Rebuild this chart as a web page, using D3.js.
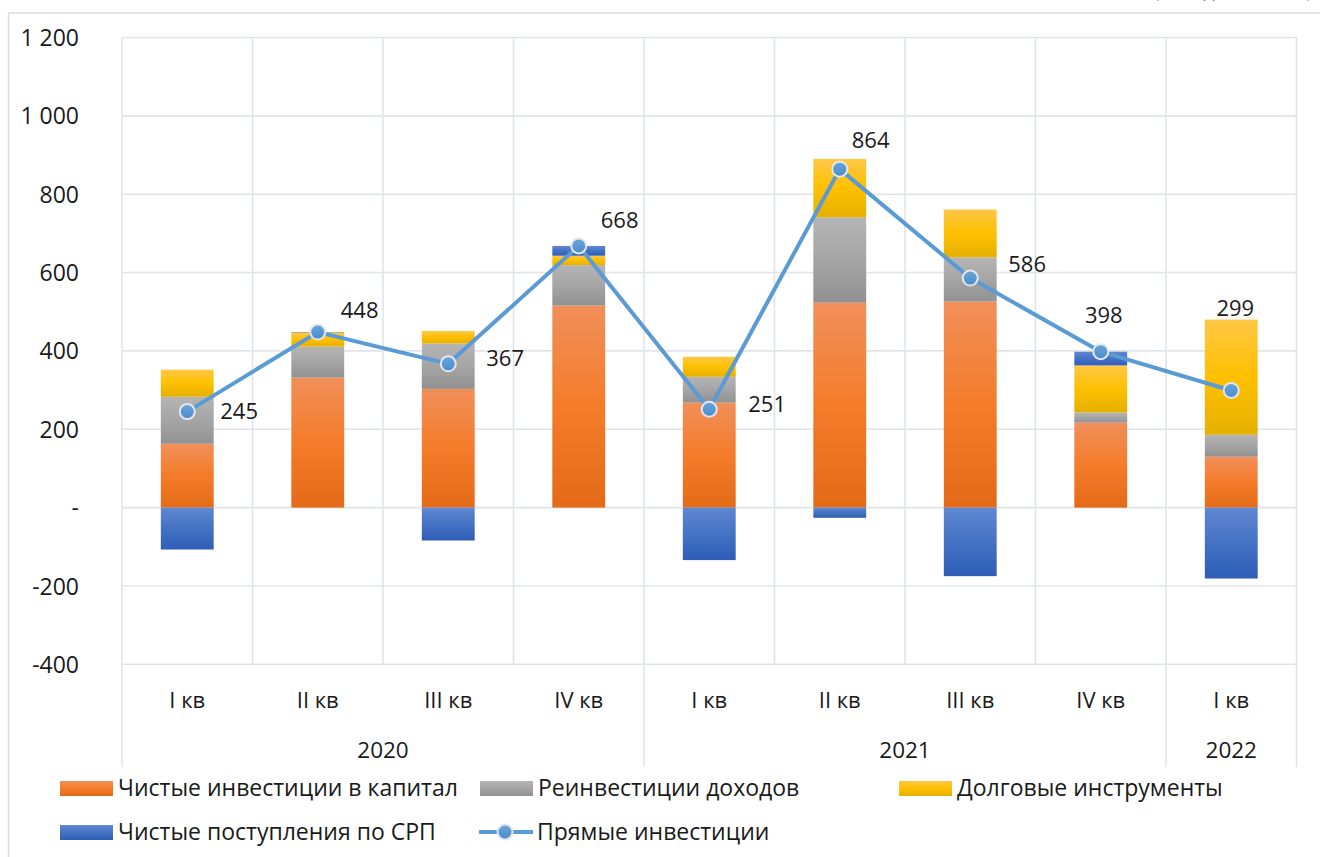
<!DOCTYPE html>
<html>
<head>
<meta charset="utf-8">
<script src="https://cdn.jsdelivr.net/npm/d3@7"></script>
<style>
  body { margin: 0; background: #fff; }
  svg { display: block; font-family: "Open Sans", "Noto Sans", sans-serif; }
</style>
</head>
<body>
<div id="chart"></div>
<script>
// quarters and years
var quarters = ["I кв", "II кв", "III кв", "IV кв", "I кв", "II кв", "III кв", "IV кв", "I кв"];
var years = [
  { label: "2020", from: 0, to: 3 },
  { label: "2021", from: 4, to: 7 },
  { label: "2022", from: 8, to: 8 }
];

// series values
var netCapital = [163, 332, 303, 516, 268, 523, 526, 217, 130];
var reinvest   = [120, 79, 116, 103, 66, 218, 113, 26, 56];
var debt       = [69, 36, 32, 24, 51, 149, 122, 120, 294];
var srp        = [-107, 1, -84, 25, -134, -26, -175, 35, -181];
var direct     = [245, 448, 367, 668, 251, 864, 586, 398, 299];

var yTicks = [-400, -200, 0, 200, 400, 600, 800, 1000, 1200];

var seriesNames = ["Чистые инвестиции в капитал", "Реинвестиции доходов", "Долговые инструменты", "Чистые поступления по СРП"];
var lineName = "Прямые инвестиции";

// label placement (dx,dy from point, anchor) - layout only
var labelPlace = [
  [33, 0, "start"], [23, -22, "start"], [38, -6, "start"], [22, -26, "start"], [39, -5, "start"],
  [12, -29, "start"], [38, -14, "start"], [3, -36, "middle"], [4, -82, "middle"]
];

var w = 1320, h = 857;
var mLeft = 122, mRight = 1296.5, mTop = 37.5, mBottom = 664.3;

var svg = d3.select("#chart").append("svg").attr("width", w).attr("height", h);
var defs = svg.append("defs");

function grad(id, stops) {
  var g = defs.append("linearGradient").attr("id", id)
    .attr("x1", 0).attr("y1", 0).attr("x2", 0).attr("y2", 1);
  stops.forEach(function(s) {
    g.append("stop").attr("offset", s[0]).attr("stop-color", s[1]);
  });
}
grad("gOrange", [[0, "#f18f5a"], [0.5, "#f47c2a"], [1, "#e46a17"]]);
grad("gGray", [[0, "#b5b5b5"], [0.5, "#a5a5a5"], [1, "#919191"]]);
grad("gYellow", [[0, "#ffc746"], [0.5, "#ffc000"], [1, "#e5b000"]]);
grad("gBlue", [[0, "#6088d2"], [0.5, "#4472c4"], [1, "#2e5db8"]]);
grad("gMarker", [[0, "#6aa5dc"], [1, "#4a8ccc"]]);
var fills = ["url(#gOrange)", "url(#gGray)", "url(#gYellow)", "url(#gBlue)"];

// chart frame
svg.append("line").attr("x1", 8.5).attr("x2", 8.5).attr("y1", 13).attr("y2", h)
  .attr("stroke", "#d9dce1").attr("stroke-width", 1.5);
svg.append("line").attr("x1", 8.5).attr("x2", w).attr("y1", 13).attr("y2", 13)
  .attr("stroke", "#d9dce1").attr("stroke-width", 1.5);
// unit caption, mostly above the top edge as in the source
svg.append("text").attr("x", 1312).attr("y", -3).attr("text-anchor", "end")
  .attr("font-size", 20).attr("fill", "#555").text("(млн долл. США)");

var x = d3.scaleBand().domain(d3.range(quarters.length)).range([mLeft, mRight]).padding(0);
var y = d3.scaleLinear().domain([-400, 1200]).range([mBottom, mTop]);
var barW = x.bandwidth() * 0.405;

// gridlines
var grid = svg.append("g").attr("stroke", "#e0e4ea").attr("stroke-width", 1.6);
yTicks.forEach(function(t) {
  grid.append("line").attr("x1", mLeft).attr("x2", mRight).attr("y1", y(t)).attr("y2", y(t));
});
d3.range(quarters.length + 1).forEach(function(i) {
  var xx = i < quarters.length ? x(i) : mRight;
  grid.append("line").attr("x1", xx).attr("x2", xx).attr("y1", mTop).attr("y2", mBottom);
});
// year separators below axis
var seps = [mLeft].concat(years.map(function(yr) { return yr.to + 1 < quarters.length ? x(yr.to + 1) : mRight; }));
seps.forEach(function(xx) {
  grid.append("line").attr("x1", xx).attr("x2", xx).attr("y1", mBottom).attr("y2", 767);
});

// y axis labels
function fmt(v) {
  if (v === 0) return "-";
  var s = d3.format(",")(Math.abs(v)).replace(/,/g, " ");
  return v < 0 ? "-" + s : s;
}
var yAxis = d3.axisLeft(y).tickValues(yTicks).tickFormat(fmt).tickSize(0).tickPadding(0);
var ya = svg.append("g").attr("transform", "translate(79,0)").call(yAxis);
ya.select(".domain").remove();
ya.selectAll("text").attr("font-size", 23).attr("fill", "#1a1a1a")
  .attr("font-family", "'Open Sans', sans-serif").attr("dy", "0.35em");

// stacked bars
var rows = quarters.map(function(q, i) {
  return { i: i, a: netCapital[i], b: reinvest[i], c: debt[i], d: srp[i] };
});
var stack = d3.stack().keys(["a", "b", "c", "d"]).offset(d3.stackOffsetDiverging);
var layers = stack(rows);

svg.selectAll("g.layer").data(layers).enter().append("g")
  .attr("class", "layer")
  .attr("fill", function(d, k) { return fills[k]; })
  .selectAll("rect").data(function(d) { return d; }).enter().append("rect")
  .attr("x", function(d) { return x(d.data.i) + (x.bandwidth() - barW) / 2; })
  .attr("width", barW)
  .attr("y", function(d) { return y(Math.max(d[0], d[1])); })
  .attr("height", function(d) { return Math.abs(y(d[0]) - y(d[1])); });

// line
var cx = function(i) { return x(i) + x.bandwidth() / 2; };
var line = d3.line().x(function(d, i) { return cx(i); }).y(function(d) { return y(d); });
svg.append("path").datum(direct).attr("d", line)
  .attr("fill", "none").attr("stroke", "#5b9bd5").attr("stroke-width", 4).attr("stroke-linejoin", "round");
svg.selectAll("circle.pt").data(direct).enter().append("circle").attr("class", "pt")
  .attr("cx", function(d, i) { return cx(i); }).attr("cy", function(d) { return y(d); })
  .attr("r", 7.5).attr("fill", "url(#gMarker)").attr("stroke", "#e4e6ea").attr("stroke-width", 2);

// data labels
svg.selectAll("text.lbl").data(direct).enter().append("text").attr("class", "lbl")
  .attr("x", function(d, i) { return cx(i) + labelPlace[i][0]; })
  .attr("y", function(d, i) { return y(d) + labelPlace[i][1]; })
  .attr("dy", "0.35em")
  .attr("text-anchor", function(d, i) { return labelPlace[i][2]; })
  .attr("font-size", 22).attr("fill", "#1a1a1a").text(function(d) { return d; });

// category labels
svg.selectAll("text.q").data(quarters).enter().append("text").attr("class", "q")
  .attr("x", function(d, i) { return cx(i); }).attr("y", 700).attr("dy", "0.35em")
  .attr("text-anchor", "middle").attr("font-size", 22).attr("fill", "#1a1a1a").text(function(d) { return d; });
svg.selectAll("text.yr").data(years).enter().append("text").attr("class", "yr")
  .attr("x", function(d) { return (x(d.from) + x(d.to) + x.bandwidth()) / 2; }).attr("y", 750).attr("dy", "0.35em")
  .attr("text-anchor", "middle").attr("font-size", 22.5).attr("fill", "#1a1a1a").text(function(d) { return d.label; });

// legend
var legendItems = [
  { name: seriesNames[0], fill: fills[0], x: 60, y: 788 },
  { name: seriesNames[1], fill: fills[1], x: 480, y: 788 },
  { name: seriesNames[2], fill: fills[2], x: 899, y: 788 },
  { name: seriesNames[3], fill: fills[3], x: 60, y: 832 },
  { name: lineName, fill: null, x: 479, y: 832 }
];
var lg = svg.append("g");
legendItems.forEach(function(it) {
  if (it.fill) {
    lg.append("rect").attr("x", it.x).attr("y", it.y - 7).attr("width", 53).attr("height", 15).attr("fill", it.fill);
  } else {
    lg.append("line").attr("x1", it.x).attr("x2", it.x + 54).attr("y1", it.y).attr("y2", it.y)
      .attr("stroke", "#5b9bd5").attr("stroke-width", 4);
    lg.append("circle").attr("cx", it.x + 26).attr("cy", it.y).attr("r", 7.5)
      .attr("fill", "url(#gMarker)").attr("stroke", "#e4e6ea").attr("stroke-width", 2);
  }
  lg.append("text").attr("x", it.x + 58).attr("y", it.y).attr("dy", "0.35em")
    .attr("font-size", 23).attr("fill", "#1a1a1a").text(it.name);
});
</script>
</body>
</html>
